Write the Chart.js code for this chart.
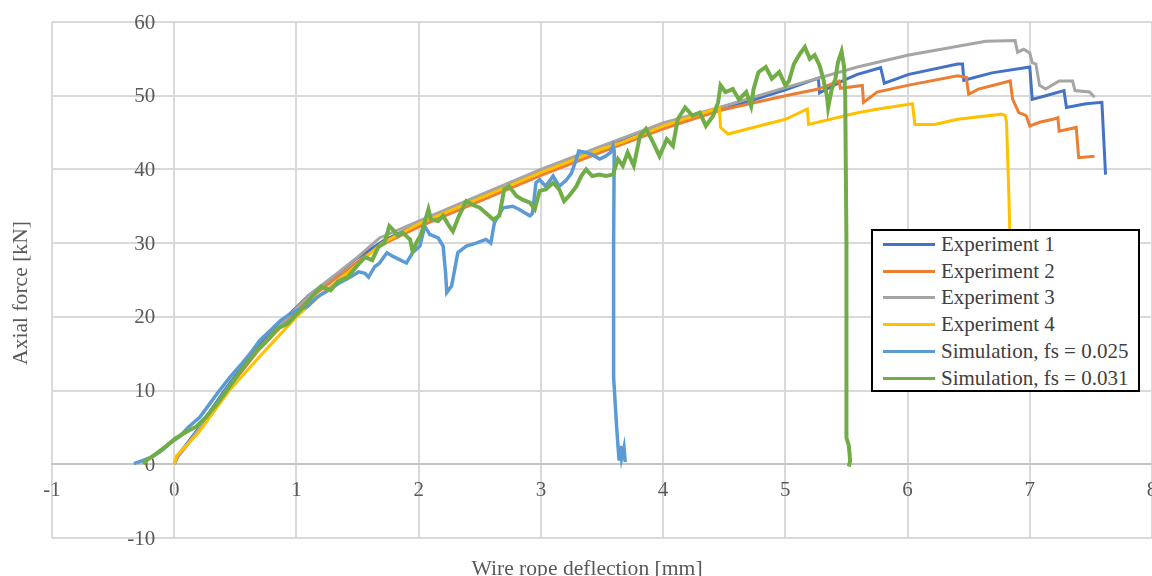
<!DOCTYPE html>
<html>
<head>
<meta charset="utf-8">
<script src="https://cdn.jsdelivr.net/npm/chart.js@4"></script>
<style>
  body { margin: 0; background: #fff; }
  #wrap { position: relative; width: 1152px; height: 576px; }
  #legend {
    position: absolute; left: 871px; top: 229px; width: 269px; height: 163px;
    box-sizing: border-box; border: 2px solid #000; background: #fff;
    font-family: "Liberation Serif", serif; font-size: 21px; color: #404040;
  }
  .row { height: 26.8px; display: flex; align-items: center; white-space: nowrap; }
  .swatch { width: 52px; height: 3px; margin-left: 10px; margin-right: 6px; }
</style>
</head>
<body>
<div id="wrap">
  <canvas id="forceChart"></canvas>
  <div id="legend"></div>
</div>
<script>
  const xTitle = 'Wire rope deflection [mm]';
  const yTitle = 'Axial force [kN]';
  const seriesNames = ['Experiment 1', 'Experiment 2', 'Experiment 3', 'Experiment 4',
                       'Simulation, fs = 0.025', 'Simulation, fs = 0.031'];
  const seriesColors = ['#4472C4', '#ED7D31', '#A5A5A5', '#FFC000', '#5B9BD5', '#70AD47'];

  // Experiment 1
  const exp1Defl = [0, 0.03, 0.2, 0.41, 0.65, 0.92, 1.1, 1.33, 1.5, 1.71,
    2.0, 2.5, 3.0, 3.5, 4.0, 4.5, 5.0, 5.27, 5.28, 5.49,
    5.59, 5.78, 5.81, 6.01, 6.41, 6.45, 6.46, 6.69, 7.0, 7.02,
    7.13, 7.28, 7.3, 7.46, 7.59, 7.62];
  const exp1Force = [0, 1.2, 4.9, 10, 15.3, 20, 22.9, 25.8, 28.0, 30.3,
    32.6, 36.2, 39.7, 43.0, 46.0, 48.2, 50.8, 52.4, 50.4, 52.2,
    52.9, 53.8, 51.7, 52.9, 54.3, 54.3, 52.1, 53.1, 53.9, 49.5,
    50.0, 50.7, 48.4, 48.9, 49.1, 39.3];

  // Experiment 2
  const exp2Defl = [0, 0.03, 0.2, 0.43, 0.68, 0.95, 1.13, 1.36, 1.52, 1.7,
    2.0, 2.5, 3.0, 3.5, 4.0, 4.46, 5.0, 5.27, 5.44, 5.45,
    5.63, 5.64, 5.75, 6.0, 6.41, 6.48, 6.5, 6.58, 6.84, 6.86,
    6.91, 6.97, 7.0, 7.08, 7.19, 7.23, 7.24, 7.38, 7.4, 7.53];
  const exp2Force = [0, 1.0, 4.6, 10, 15.3, 20, 22.8, 25.7, 27.7, 29.8,
    32.2, 35.7, 39.2, 42.4, 45.5, 48.0, 50.0, 50.9, 52.0, 51.0,
    51.4, 49.1, 50.5, 51.4, 52.7, 52.5, 50.2, 50.9, 52.0, 49.5,
    47.7, 47.3, 45.9, 46.4, 46.8, 47.0, 45.2, 45.7, 41.6, 41.8];

  // Experiment 3
  const exp3Defl = [0, 0.03, 0.2, 0.42, 0.66, 0.93, 1.11, 1.34, 1.5, 1.68,
    2.0, 2.5, 3.0, 3.5, 4.0, 4.46, 5.0, 5.59, 6.0, 6.64,
    6.88, 6.9, 6.95, 7.0, 7.02, 7.05, 7.08, 7.13, 7.24, 7.35,
    7.37, 7.49, 7.53];
  const exp3Force = [0, 1.1, 4.7, 10, 15.2, 20, 23.0, 26.0, 28.1, 30.7,
    33.0, 36.5, 40.0, 43.2, 46.3, 48.4, 51.1, 53.9, 55.5, 57.4,
    57.5, 55.9, 56.3, 55.8, 54.5, 54.3, 51.4, 50.9, 52.0, 52.0,
    50.7, 50.5, 49.8];

  // Experiment 4
  const exp4Defl = [0, 0.02, 0.2, 0.45, 0.72, 1.0, 1.2, 1.45, 1.7, 2.0,
    2.5, 3.0, 3.5, 3.65, 4.0, 4.43, 4.46, 4.47, 4.53, 5.0,
    5.18, 5.19, 5.59, 5.76, 6.04, 6.06, 6.22, 6.41, 6.77, 6.8,
    6.81, 6.83, 6.84];
  const exp4Force = [0, 1.2, 4.3, 10, 15, 20, 23.0, 26.4, 30.0, 32.6,
    36.1, 39.6, 42.8, 43.6, 45.9, 48.2, 48.4, 45.7, 44.8, 46.8,
    48.2, 46.1, 47.7, 48.2, 48.9, 46.1, 46.1, 46.8, 47.5, 47.3,
    46.4, 35.9, 29.0];

  // Simulation, fs = 0.025
  const sim025Defl = [-0.33, -0.26, -0.18, -0.1, -0.04, 0.04, 0.12, 0.21, 0.29, 0.37,
    0.46, 0.54, 0.62, 0.7, 0.79, 0.87, 0.93, 1.01, 1.09, 1.17,
    1.26, 1.34, 1.42, 1.51, 1.56, 1.59, 1.64, 1.68, 1.74, 1.79,
    1.9, 1.95, 2.01, 2.05, 2.09, 2.16, 2.2, 2.22, 2.23, 2.27,
    2.29, 2.32, 2.39, 2.47, 2.55, 2.59, 2.62, 2.69, 2.77, 2.82,
    2.91, 2.93, 2.96, 2.99, 3.04, 3.1, 3.15, 3.21, 3.25, 3.29,
    3.31, 3.37, 3.42, 3.48, 3.53, 3.57, 3.59, 3.6, 3.595, 3.595,
    3.62, 3.63, 3.64, 3.65, 3.66, 3.68, 3.69];
  const sim025Force = [0.1, 0.5, 1.0, 1.9, 2.8, 3.7, 5.1, 6.4, 8.2, 10.0,
    11.9, 13.4, 15.0, 16.8, 18.2, 19.5, 20.2, 20.9, 21.4, 22.7,
    23.6, 24.5, 25.2, 26.1, 25.9, 25.4, 26.8, 27.3, 28.7, 28.2,
    27.3, 28.7, 29.6, 32.3, 31.2, 30.7, 29.6, 26.0, 23.3, 24.2,
    26.0, 28.7, 29.6, 30.0, 30.5, 30.0, 32.8, 34.8, 35.0, 34.6,
    33.7, 34.0, 38.2, 38.6, 37.7, 39.1, 37.7, 38.6, 39.5, 41.4,
    42.5, 42.3, 42.0, 41.4, 41.8, 42.3, 43.2, 42.5, 30.0, 11.8,
    5.0, 2.7, 0.5, 2.5, 0.8, 2.3, 0.3];

  // Simulation, fs = 0.031
  const sim031Defl = [-0.25, -0.23, -0.15, -0.07, 0.01, 0.1, 0.18, 0.26, 0.35, 0.43,
    0.51, 0.59, 0.68, 0.76, 0.84, 0.93, 0.98, 1.06, 1.15, 1.2,
    1.28, 1.34, 1.42, 1.51, 1.56, 1.62, 1.67, 1.72, 1.76, 1.79,
    1.83, 1.87, 1.93, 1.95, 1.98, 2.02, 2.08, 2.1, 2.16, 2.2,
    2.25, 2.28, 2.33, 2.39, 2.44, 2.5, 2.55, 2.61, 2.66, 2.7,
    2.74, 2.8, 2.85, 2.91, 2.95, 2.99, 3.04, 3.1, 3.15, 3.19,
    3.23, 3.29, 3.33, 3.37, 3.42, 3.48, 3.53, 3.59, 3.63, 3.67,
    3.71, 3.76, 3.81, 3.86, 3.92, 3.97, 4.03, 4.08, 4.12, 4.18,
    4.24, 4.3, 4.35, 4.41, 4.45, 4.47, 4.51, 4.57, 4.62, 4.68,
    4.72, 4.74, 4.78, 4.84, 4.89, 4.95, 5.0, 5.03, 5.07, 5.12,
    5.16, 5.2, 5.24, 5.28, 5.31, 5.34, 5.35, 5.38, 5.41, 5.43,
    5.46, 5.48, 5.49, 5.5, 5.5, 5.52, 5.53, 5.52];
  const sim031Force = [0, 0.5, 1.4, 2.4, 3.5, 4.4, 5.1, 6.4, 8.2, 10.0,
    11.9, 13.7, 15.5, 16.8, 18.4, 19.1, 20.0, 21.4, 23.2, 24.1,
    23.6, 24.8, 25.4, 27.2, 28.1, 27.7, 29.5, 30.0, 32.3, 31.8,
    31.0, 31.4, 30.5, 28.9, 30.0, 31.2, 34.6, 33.2, 33.0, 33.7,
    32.3, 31.6, 33.7, 35.7, 35.2, 34.8, 34.1, 33.2, 33.7, 37.3,
    37.7, 36.4, 35.9, 35.5, 34.6, 37.1, 37.3, 38.2, 37.3, 35.7,
    36.4, 37.7, 39.1, 40.0, 39.1, 39.3, 39.1, 39.3, 41.4, 40.5,
    42.3, 40.5, 44.5, 45.5, 43.6, 41.8, 44.1, 43.2, 46.8, 48.4,
    47.3, 47.7, 45.9, 47.3, 49.1, 51.4, 50.5, 50.9, 49.5, 50.5,
    48.6, 50.9, 53.2, 53.9, 52.3, 53.2, 51.4, 52.0, 54.3, 55.7,
    56.6, 55.0, 55.5, 54.1, 52.3, 50.0, 48.4, 50.9, 52.3, 54.5,
    56.0, 54.0, 50.0, 30.0, 3.6, 2.5, 0.5, -0.3];

  const seriesDefl = [exp1Defl, exp2Defl, exp3Defl, exp4Defl, sim025Defl, sim031Defl];
  const seriesForce = [exp1Force, exp2Force, exp3Force, exp4Force, sim025Force, sim031Force];
  const lineWidths = [3, 3, 3, 3, 3.5, 4];

  const datasets = seriesNames.map((name, i) => ({
    label: name,
    data: seriesDefl[i].map((x, j) => ({ x: x, y: seriesForce[i][j] })),
    borderColor: seriesColors[i],
    backgroundColor: seriesColors[i],
    borderWidth: lineWidths[i],
    pointRadius: 0,
    tension: 0,
    fill: false,
    order: seriesNames.length - i, // later series drawn on top, like the original
  }));

  const labelFont = '21px "Liberation Serif"';
  const labelColor = '#595959';

  // y tick labels next to the axis at x = 0 (chart.js ignores padding for axes placed at a value)
  const yTickLabels = {
    id: 'yTickLabels',
    beforeDatasetsDraw(chart) {
      const xs = chart.scales.x;
      const ys = chart.scales.y;
      const c = chart.ctx;
      c.save();
      c.font = labelFont;
      c.fillStyle = labelColor;
      c.textAlign = 'right';
      c.textBaseline = 'middle';
      const right = xs.getPixelForValue(0) - 19;
      ys.ticks.forEach(t => c.fillText(String(t.value), right, ys.getPixelForValue(t.value) + 1));
      c.restore();
    }
  };

  // axis titles sit at the canvas edges, not next to the crossing axes
  const axisTitles = {
    id: 'axisTitles',
    afterDraw(chart) {
      const c = chart.ctx;
      c.save();
      c.fillStyle = labelColor;
      c.font = '21.6px "Liberation Serif"';
      c.textAlign = 'center';
      c.textBaseline = 'alphabetic';
      c.fillText(xTitle, 587, 575);
      c.translate(27, 293);
      c.rotate(-Math.PI / 2);
      c.fillText(yTitle, 0, 0);
      c.restore();
    }
  };

  const gridColor = '#d9d9d9';

  const ctx = document.getElementById('forceChart').getContext('2d');
  const forceChart = new Chart(ctx, {
    type: 'line',
    data: { datasets: datasets },
    options: {
      responsive: true,
      maintainAspectRatio: false,
      animation: false,
      layout: { padding: { left: 52, right: 0, top: 22, bottom: 38 } },
      plugins: { legend: { display: false }, tooltip: { enabled: false } },
      scales: {
        x: {
          type: 'linear', min: -1, max: 8,
          position: { y: 0 },
          ticks: { stepSize: 1, color: labelColor, font: { family: 'Liberation Serif', size: 21 }, padding: 14 },
          grid: { color: gridColor, lineWidth: 2, drawTicks: false },
          border: { color: '#c4c4c4', width: 2 },
          afterFit(scale) { scale.paddingLeft = 0; scale.paddingRight = 0; }
        },
        y: {
          type: 'linear', min: -10, max: 60,
          position: { x: 0 },
          ticks: { stepSize: 10, display: false },
          grid: { color: gridColor, lineWidth: 2, drawTicks: false },
          border: { color: gridColor, width: 2 },
          afterFit(scale) { scale.paddingTop = 0; scale.paddingBottom = 0; }
        }
      }
    },
    plugins: [yTickLabels, axisTitles]
  });

  // legend box inside the plot, lower right
  const legendBox = document.getElementById('legend');
  seriesNames.forEach((name, i) => {
    const row = document.createElement('div');
    row.className = 'row';
    const swatch = document.createElement('span');
    swatch.className = 'swatch';
    swatch.style.background = seriesColors[i];
    const label = document.createElement('span');
    label.textContent = name;
    row.appendChild(swatch);
    row.appendChild(label);
    legendBox.appendChild(row);
  });
</script>
</body>
</html>
